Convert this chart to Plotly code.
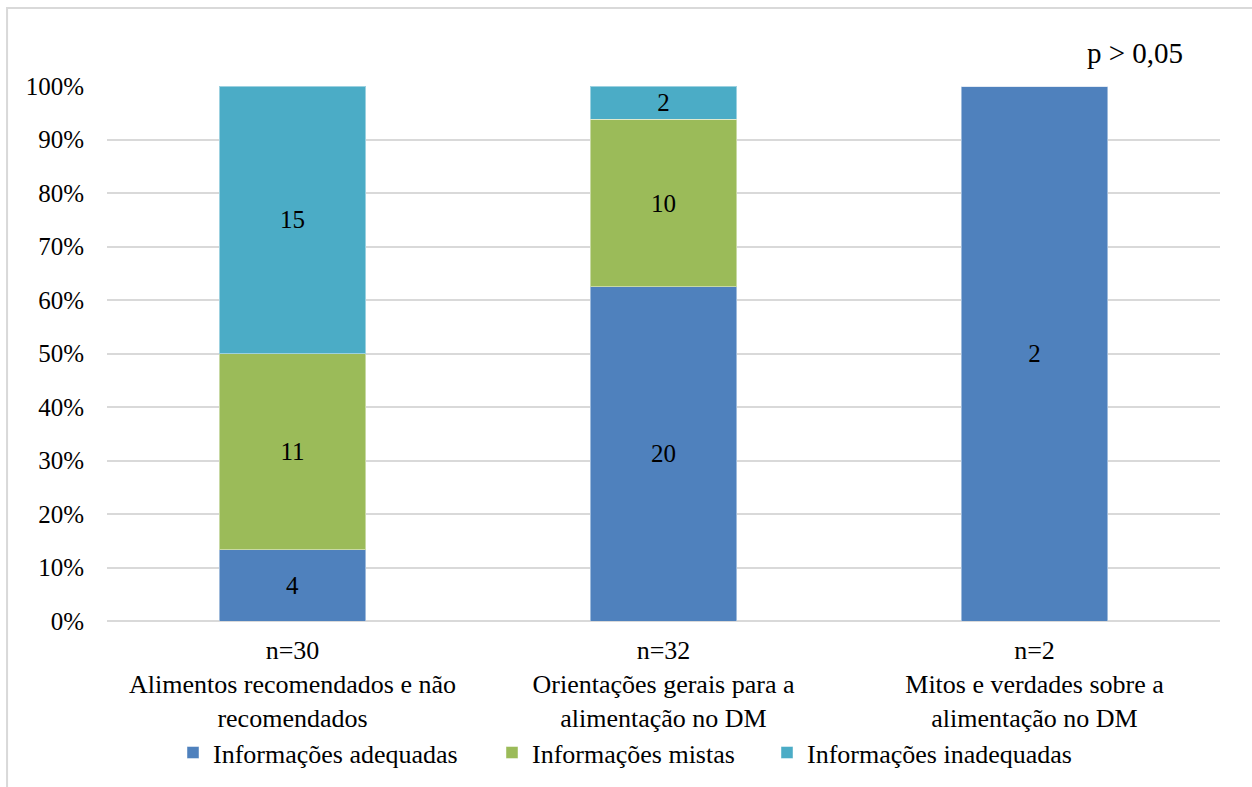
import plotly.graph_objects as go

# Categorias e totais por categoria
categorias = [
    "Alimentos recomendados e não<br>recomendados",
    "Orientações gerais para a<br>alimentação no DM",
    "Mitos e verdades sobre a<br>alimentação no DM",
]
totais = [30, 32, 2]

# Contagens por tipo de informação
adequadas = [4, 20, 2]
mistas = [11, 10, 0]
inadequadas = [15, 2, 0]

series = [
    ("Informações adequadas", adequadas, "#4F81BD"),
    ("Informações mistas", mistas, "#9BBB59"),
    ("Informações inadequadas", inadequadas, "#4BACC6"),
]

FONT = "Liberation Serif"
x_pos = list(range(len(categorias)))
tick_text = [f"n={n}<br>{c}" for n, c in zip(totais, categorias)]

# Cada série tem a sua própria legenda, lado a lado sob o gráfico
legend_ids = ["legend", "legend2", "legend3"]
legend_x = [0.0593, 0.3459, 0.5930]

fig = go.Figure()
for (nome, valores, cor), leg in zip(series, legend_ids):
    pct = [v / n * 100 for v, n in zip(valores, totais)]
    fig.add_trace(go.Bar(
        x=x_pos,
        y=pct,
        name=nome,
        legend=leg,
        marker=dict(color=cor, line=dict(color="rgba(255,255,255,0.45)", width=1)),
        text=[str(v) if v > 0 else "" for v in valores],
        textposition="inside",
        insidetextanchor="middle",
        textfont=dict(family=FONT, size=25, color="black"),
        hoverinfo="skip",
    ))

# Moldura externa do gráfico
fig.add_shape(
    type="rect", xref="paper", yref="paper",
    x0=-0.0898, x1=1.05, y0=-0.34, y1=1.1458,
    line=dict(color="#d9d9d9", width=2), fillcolor="rgba(0,0,0,0)", layer="below",
)

fig.add_annotation(
    text="p > 0,05", xref="paper", yref="paper",
    x=0.9236, y=1.0617, showarrow=False,
    font=dict(family=FONT, size=29, color="black"),
    xanchor="center", yanchor="middle",
)

legend_style = dict(
    orientation="h",
    xanchor="left",
    y=-0.246, yanchor="middle",
    font=dict(family=FONT, size=26, color="black"),
    itemwidth=30,
    bgcolor="rgba(0,0,0,0)",
)

fig.update_layout(
    barmode="stack",
    bargap=0.604,
    width=1252,
    height=787,
    margin=dict(l=107, r=32, t=86, b=166, autoexpand=False),
    paper_bgcolor="white",
    plot_bgcolor="white",
    font=dict(family=FONT, size=26, color="black"),
    showlegend=True,
    uniformtext=dict(mode="show", minsize=10),
)
for leg, lx in zip(legend_ids, legend_x):
    fig.update_layout({leg: dict(legend_style, x=lx)})

fig.update_xaxes(
    tickvals=x_pos,
    ticktext=tick_text,
    range=[-0.5, 2.5],
    showgrid=False,
    showline=False,
    ticks="",
    automargin=False,
    ticklabelstandoff=11,
    tickfont=dict(family=FONT, size=26, color="black"),
)
fig.update_yaxes(
    range=[0, 100],
    dtick=10,
    ticksuffix="%",
    showgrid=True,
    gridcolor="#d9d9d9",
    gridwidth=1.5,
    zeroline=True,
    zerolinecolor="#d9d9d9",
    zerolinewidth=1.5,
    showline=False,
    ticks="",
    automargin=False,
    ticklabelstandoff=22,
    tickfont=dict(family=FONT, size=25, color="black"),
)

fig.write_html("out.html")
